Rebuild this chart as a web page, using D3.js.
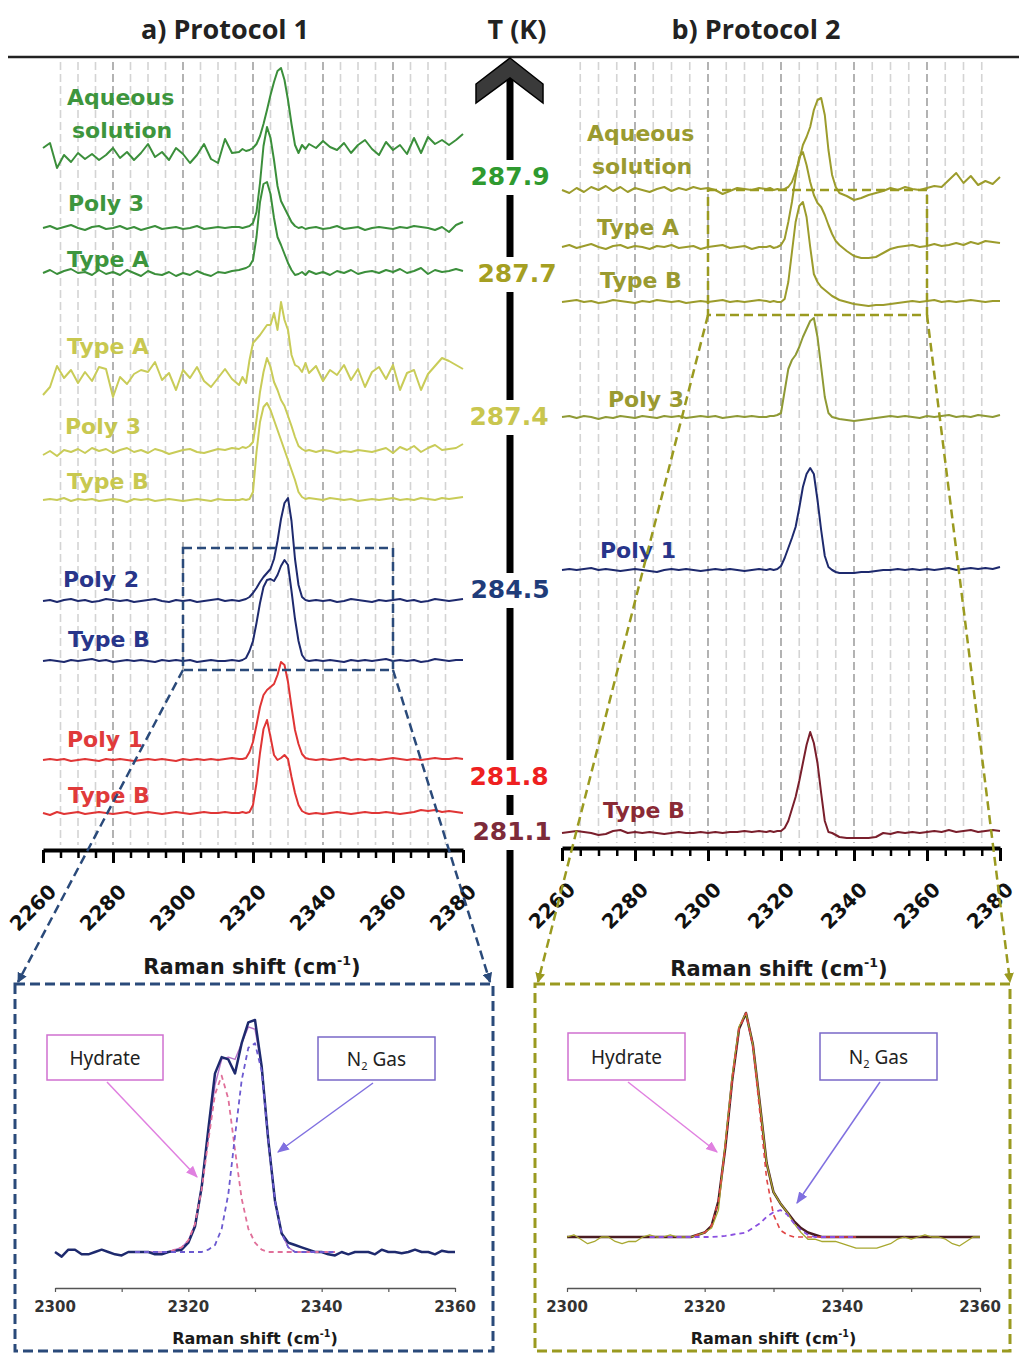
<!DOCTYPE html>
<html><head><meta charset="utf-8">
<script src="https://cdn.jsdelivr.net/npm/d3@7"></script>
<style>body{margin:0;background:#fff}svg{display:block}</style>
</head><body>
<svg id="c" width="1019" height="1356"></svg>
<script>
// ---------------- DATA ----------------
const ramanShift = [2260,2262,2264,2266,2268,2270,2272,2274,2276,2278,2280,2282,2284,2286,2288,2290,2292,2294,2296,2298,2300,2302,2304,2306,2308,2310,2312,2314,
 2316,2317,2318,2319,2320,2321,2322,2323,2324,2325,2326,2327,2328,2329,2330,2331,2332,2333,2334,2335,2336,
 2338,2340,2342,2344,2346,2348,2350,2352,2354,2356,2358,2360,2362,2364,2366,2368,2370,2372,2374,2376,2378,2380];
const majorTicks = [2260,2280,2300,2320,2340,2360,2380];
const minorTicks = [2260,2265,2270,2275,2280,2285,2290,2295,2300,2305,2310,2315,2320,2325,2330,2335,2340,2345,2350,2355,2360,2365,2370,2375,2380];
const gridShift = [2265,2270,2275,2280,2285,2290,2295,2300,2305,2310,2315,2320,2325,2330,2335,2340,2345,2350,2355,2360,2365,2370,2375];

// Protocol 1 (a) spectra, intensity above each trace's offset (a.u.)
const p1Labels = ["Aqueous solution","Poly 3","Type A","Type A","Poly 3","Type B","Poly 2","Type B","Poly 1","Type B"];
const p1Offsets = [70.0, 62.2, 57.8, 47.5, 39.8, 35.0, 24.9, 18.9, 9.0, 3.7];
const p1Aqueous = [0.2,0.7,-1.8,-0.5,-1.2,-0.3,-0.9,-0.4,-1.0,-0.5,0.2,-0.8,-0.2,-1.0,-0.3,0.6,-0.7,-0.2,-1.0,0.2,-0.4,-1.3,-0.5,0.6,-0.9,-1.3,1.1,-0.3,
 -0.2,0.1,-0.1,0.0,0.2,0.6,1.4,2.6,4.0,5.5,6.8,7.9,8.2,7.0,5.0,2.6,0.5,-0.3,0.5,0.1,0.6,
 0.2,0.9,0.3,0.0,0.7,-0.3,0.5,1.0,0.1,-0.5,0.8,0.0,0.5,-0.4,1.2,-0.3,1.3,0.6,1.0,0.5,1.0,1.6];
const p1Poly3G = [0.0,0.2,-0.1,0.1,0.3,0.0,-0.2,0.1,0.2,-0.1,0.0,0.2,-0.1,0.1,-0.2,0.0,0.2,-0.1,0.0,0.1,-0.1,0.0,0.2,-0.1,0.0,0.1,0.0,0.1,
 0.1,0.0,0.1,0.2,0.5,1.6,4.5,8.2,10.1,9.0,6.8,4.2,2.7,2.0,1.3,0.6,0.2,0.0,0.1,-0.1,0.0,
 0.1,-0.1,0.0,0.2,-0.1,0.0,0.1,-0.2,0.0,0.1,0.0,-0.1,0.1,0.0,0.2,0.1,0.0,-0.2,0.1,-0.4,0.3,0.6];
const p1TypeAG = [-0.1,0.2,-0.2,0.1,0.3,-0.1,0.0,-0.3,0.2,-0.2,0.0,-0.3,0.2,-0.1,-0.4,0.1,-0.2,-0.3,0.0,-0.4,-0.1,-0.3,0.1,-0.2,-0.4,0.0,-0.1,0.1,
 0.2,0.3,0.4,0.6,1.2,3.5,7.0,8.8,9.0,7.8,5.4,3.5,2.7,1.8,0.9,0.2,-0.3,-0.2,0.0,-0.3,0.1,
 -0.2,0.0,-0.3,0.1,-0.1,0.2,-0.2,0.0,0.1,-0.1,0.2,0.0,0.3,-0.1,0.1,0.4,-0.2,0.2,0.0,0.1,0.3,0.1];
const p1TypeAY = [-2.0,-1.2,0.9,-0.3,0.5,-0.8,0.3,-0.6,0.8,0.6,-2.2,-0.2,-0.9,0.1,0.5,0.3,1.3,-0.5,0.2,-1.5,0.5,-0.3,0.8,-0.6,-1.2,-0.3,0.6,-0.4,
 -1.0,-0.2,-0.8,1.5,3.2,3.6,4.0,4.5,5.0,5.0,6.2,4.5,7.3,5.5,4.5,2.0,1.0,0.8,0.3,1.2,0.2,
 0.9,-0.6,0.5,0.0,1.0,-0.5,0.6,-1.2,0.3,0.8,-0.4,1.0,-1.5,0.2,0.5,-1.5,0.1,0.9,1.7,1.4,1.0,0.6];
const p1Poly3Y = [-0.3,0.1,-0.4,0.2,0.0,0.3,-0.1,0.4,0.1,0.3,-0.1,0.2,0.4,0.0,0.2,-0.1,0.3,0.1,-0.2,0.0,0.2,0.3,0.0,-0.1,0.1,0.3,0.2,0.4,
 0.3,0.5,0.4,0.6,1.0,3.2,6.0,8.0,9.4,8.5,7.0,6.2,5.2,4.6,3.6,2.6,1.5,0.6,0.3,0.1,0.2,
 0.0,0.2,0.1,-0.1,0.1,0.0,0.2,0.1,0.0,0.2,0.4,-0.1,0.5,0.2,0.6,0.0,0.4,0.7,0.2,0.3,0.4,0.8];
const p1TypeBY = [0.0,0.1,0.0,0.2,-0.1,0.1,0.0,0.1,-0.1,0.0,0.1,0.0,-0.2,0.1,0.0,0.1,-0.1,0.0,0.1,0.0,-0.1,0.0,0.1,0.0,-0.1,0.1,0.0,0.0,
 0.0,0.1,0.0,0.1,0.8,4.8,7.8,9.3,9.7,9.0,8.0,7.0,6.0,5.0,4.0,3.0,2.0,0.8,0.3,0.1,0.2,
 0.1,0.0,0.2,0.1,0.0,0.1,-0.1,0.0,0.1,0.0,0.1,0.2,0.0,0.1,0.0,0.2,0.1,0.0,0.2,0.1,0.2,0.3];
const p1Poly2N = [0.0,0.1,-0.1,0.1,0.2,0.0,0.1,-0.1,0.0,0.2,0.1,0.0,0.1,-0.1,0.0,0.1,0.2,0.0,-0.1,0.1,0.0,0.1,-0.1,0.0,0.1,0.2,0.0,0.1,
 0.0,0.1,0.2,0.4,0.8,1.3,1.9,2.4,2.8,3.2,4.2,6.0,8.2,9.8,10.3,8.0,4.2,1.6,0.4,0.1,0.0,
 0.1,0.0,0.1,-0.1,0.0,0.2,0.1,0.0,-0.1,0.1,0.0,0.1,0.2,0.0,0.1,-0.1,0.0,0.2,0.1,0.0,0.1,0.2];
const p1TypeBN = [0.0,0.1,0.0,-0.1,0.1,0.0,0.1,0.2,0.0,0.1,-0.1,0.0,0.1,0.0,0.1,0.0,-0.1,0.1,0.0,0.1,0.0,0.1,-0.1,0.0,0.1,0.0,0.0,0.1,
 0.0,0.1,0.3,1.0,2.0,3.8,5.8,7.4,8.1,8.2,8.0,8.6,9.5,10.1,9.6,7.0,4.2,2.0,0.6,0.1,0.0,
 0.1,0.0,0.1,0.0,-0.1,0.1,0.0,0.1,0.0,0.1,0.2,0.0,0.1,0.0,0.1,-0.1,0.0,0.2,0.1,0.0,0.1,0.1];
const p1Poly1R = [0.0,0.1,0.0,0.1,-0.1,0.0,0.1,0.0,-0.1,0.1,0.0,0.1,0.0,-0.1,0.0,0.1,0.0,0.1,0.0,-0.1,0.1,0.0,0.1,0.0,0.1,0.0,0.1,0.2,
 0.1,0.1,0.2,0.8,1.8,3.5,5.3,6.5,7.0,7.3,7.6,8.5,9.8,9.5,7.8,5.3,3.0,1.6,0.6,0.2,0.1,
 0.0,0.1,0.0,0.1,0.2,0.0,0.1,0.0,0.1,0.0,0.1,0.2,0.1,0.0,0.1,0.0,0.1,0.2,0.1,0.1,0.2,0.1];
const p1TypeBR = [0.0,-0.2,0.1,-0.1,0.0,0.1,-0.1,0.0,0.1,0.0,-0.1,0.0,0.1,-0.1,0.0,0.1,0.0,-0.1,0.0,0.1,0.0,-0.1,0.0,0.1,0.0,0.0,0.1,0.0,
 0.0,0.1,0.0,0.1,0.8,3.0,6.0,8.4,9.3,7.6,5.8,5.3,5.5,5.8,5.4,3.6,2.0,0.8,0.2,0.0,-0.1,
 0.0,-0.1,0.0,0.1,0.0,-0.1,0.0,0.1,0.0,0.0,0.1,0.0,-0.1,0.0,0.1,0.3,0.2,0.3,0.1,0.2,0.1,0.0];

// Protocol 2 (b) spectra
const p2Labels = ["Aqueous solution","Type A","Type B","Poly 3","Poly 1","Type B"];
const p2Offsets = [65.8, 60.1, 54.6, 43.1, 27.8, 1.5];
const p2Aqueous = [0.0,-0.3,0.2,-0.2,0.3,0.0,0.4,-0.1,0.3,-0.2,0.2,0.0,-0.2,0.1,0.3,-0.1,0.2,0.0,0.3,0.1,0.2,0.0,-0.4,-0.1,0.2,0.1,0.0,0.2,
 0.1,0.2,0.0,0.1,0.0,0.1,0.3,0.8,1.8,3.0,4.5,5.3,6.3,8.0,9.0,9.2,7.5,4.0,1.5,0.3,-0.3,
 -0.6,-1.0,-0.8,-0.5,-0.3,-0.1,0.2,0.0,0.3,0.1,0.0,0.2,0.4,0.3,1.0,1.7,0.7,1.4,0.5,0.9,0.6,1.3];
const p2TypeA = [0.0,0.2,-0.1,0.1,0.3,0.0,-0.2,0.1,0.2,-0.1,0.1,0.0,-0.2,0.1,0.0,0.2,-0.1,0.0,0.1,-0.2,0.0,0.1,0.2,-0.1,0.0,0.1,-0.2,0.0,
 0.0,0.1,-0.1,0.0,0.2,0.8,2.5,4.5,7.0,9.0,9.5,8.2,6.5,5.2,4.4,4.0,3.2,2.2,1.3,0.6,0.2,
 -0.4,-0.9,-1.1,-1.1,-1.0,-0.6,-0.2,0.0,0.1,0.2,0.0,0.1,0.3,0.1,0.2,0.4,0.2,0.5,0.3,0.6,0.5,0.4];
const p2TypeB = [0.0,0.1,0.2,0.0,0.1,-0.1,0.0,0.2,0.1,0.0,-0.1,0.1,0.0,0.2,0.1,0.0,0.1,-0.1,0.0,0.1,0.0,0.1,0.2,0.0,0.1,0.0,0.1,0.2,
 0.1,0.0,0.1,0.0,0.0,0.3,2.0,5.0,8.0,9.6,10.0,8.5,5.5,2.8,2.0,1.5,1.2,0.9,0.6,0.4,0.2,
 0.0,-0.2,-0.3,-0.4,-0.3,-0.3,-0.2,-0.1,0.0,0.1,0.0,0.1,0.2,0.0,0.1,0.0,0.1,0.2,0.1,0.0,0.1,0.1];
const p2Poly3 = [0.0,0.1,-0.1,0.1,0.0,-0.2,0.0,-0.1,0.1,0.0,-0.1,0.1,0.0,-0.1,0.1,0.0,0.1,-0.1,0.0,0.1,0.0,0.1,-0.1,0.0,0.1,0.0,0.1,0.0,
 0.0,0.1,0.1,0.2,0.4,2.6,4.8,5.7,6.2,7.0,8.0,8.8,9.6,9.9,8.0,5.0,2.0,0.4,0.0,-0.1,-0.2,
 -0.3,-0.4,-0.3,-0.2,-0.1,0.0,0.1,0.0,0.1,0.0,-0.1,0.1,0.0,0.1,0.2,0.0,0.1,0.0,0.2,0.1,0.0,0.2];
const p2Poly1 = [0.0,0.1,0.0,0.1,0.2,0.0,0.1,0.0,-0.1,0.0,0.1,0.0,-0.1,-0.2,0.0,0.1,0.0,0.1,0.0,-0.1,0.0,0.1,0.0,0.1,0.0,-0.1,0.0,0.1,
 0.0,0.1,0.0,0.1,0.4,1.2,2.2,3.2,4.3,6.2,8.3,9.6,10.2,9.6,7.0,4.0,1.4,0.3,0.0,-0.2,-0.3,
 -0.3,-0.3,-0.2,-0.2,-0.1,0.0,0.0,0.1,0.0,0.1,0.0,0.1,0.0,0.1,0.2,0.0,0.1,0.2,0.1,0.2,0.1,0.3];
const p2TypeBD = [0.0,0.1,0.2,0.1,0.0,-0.2,-0.1,0.2,0.3,0.0,0.1,0.0,0.1,0.0,-0.1,0.0,0.1,0.0,0.0,0.1,0.0,0.1,0.0,0.1,0.1,0.2,0.1,0.2,
 0.1,0.2,0.1,0.2,0.2,0.5,1.2,2.4,3.6,5.2,7.0,8.8,10.1,9.0,7.0,4.0,1.2,0.1,0.0,-0.2,-0.4,
 -0.5,-0.5,-0.5,-0.5,-0.4,0.0,-0.1,0.1,0.0,0.1,0.0,0.1,0.2,0.1,0.3,0.1,0.2,0.3,0.1,0.2,0.3,0.2];

const tempLabels = ["287.9","287.7","287.4","284.5","281.8","281.1"];

// zoomed regions (x in cm-1, y in trace intensity units)
const p1ZoomX = [2300, 2360], p1ZoomY = [18.0, 30.2];
const p2ZoomX = [2300, 2360], p2ZoomY = [53.3, 65.8];

// insets
const insetShift = [2300,2301,2302,2303,2304,2305,2306,2307,2308,2309,2310,2311,2312,2313,2314,2315,2316,2317,2318,2319,2320,2321,2322,2323,2324,2325,2326,2327,2328,2329,2330,2331,2332,2333,2334,2335,2336,2337,2338,2339,2340,2341,2342,2343,2344,2345,2346,2347,2348,2349,2350,2351,2352,2353,2354,2355,2356,2357,2358,2359,2360];
const fitShift = [2312,2313,2314,2315,2316,2317,2318,2319,2320,2321,2322,2323,2324,2325,2326,2327,2328,2329,2330,2331,2332,2333,2334,2335,2336,2337,2338,2339,2340,2341,2342];
const insetTicks = [2300,2320,2340,2360];
const insetMinorTicks = [2300,2310,2320,2330,2340,2350,2360];

const inA_measured = [0.0,-0.02,0.01,0.01,-0.01,-0.01,0.0,0.01,0.0,-0.01,
 -0.015,0.0,0.0,0.0,0.0,-0.01,-0.01,0.0,0.005,0.01,
 0.04,0.11,0.28,0.53,0.77,0.84,0.83,0.77,0.9,0.99,
 1.0,0.8,0.48,0.22,0.08,0.04,0.03,0.02,0.01,0.0,
 0.0,-0.01,-0.015,0.0,-0.01,0.0,0.0,0.0,-0.01,0.01,
 0.0,0.0,-0.005,0.0,0.01,0.0,0.0,-0.01,0.005,0.0,0.0];
const inA_fit = [0,0,0,0,0,0,0.01,0.02,0.05,0.12,0.28,0.5,0.72,0.83,0.84,0.83,0.9,0.97,0.96,0.8,0.48,0.22,0.08,0.02,0,0,0,0,0,0,0];
const inA_hydrate = [0,0,0,0,0,0,0.01,0.02,0.05,0.12,0.27,0.48,0.68,0.76,0.66,0.44,0.23,0.1,0.04,0.01,0,0,0,0,0,0,0,0,0,0,0];
const inA_gas = [0,0,0,0,0,0,0,0,0,0,0,0.01,0.03,0.1,0.25,0.5,0.74,0.88,0.9,0.78,0.48,0.22,0.08,0.02,0,0,0,0,0,0,0];

const inB_measured = [0.0,0.01,-0.01,-0.03,-0.02,0.0,0.0,-0.02,-0.03,-0.02,
 -0.02,0.0,0.01,0.0,0.0,0.01,0.0,0.0,0.0,0.01,
 0.02,0.04,0.12,0.42,0.72,0.94,1.0,0.86,0.6,0.33,
 0.2,0.15,0.11,0.06,0.02,-0.01,-0.01,-0.02,-0.02,-0.02,
 -0.03,-0.04,-0.05,-0.05,-0.05,-0.05,-0.04,-0.03,-0.01,0.0,
 -0.01,0.0,0.01,0.0,0.0,-0.01,-0.03,-0.04,-0.02,0.0,0.0];
const inB_fit = [0,0,0,0,0,0,0,0,0,0,0,0,0,0,0,0,0,0,0,
 0.01,0.02,0.05,0.16,0.4,0.7,0.93,1.0,0.86,0.6,0.33,0.2,0.15,0.11,0.07,0.04,0.02,0.01,
 0,0,0,0,0,0,0,0,0,0,0,0,0,0,0,0,0,0,0,0,0,0,0,0];
const inB_hydrate = [0,0,0,0,0,0,0,0.01,0.02,0.05,0.16,0.4,0.7,0.93,1.0,0.85,0.56,0.26,0.1,0.03,0.01,0,0,0,0,0,0,0,0,0,0];
const inB_gas = [0,0,0,0,0,0,0,0,0,0,0.002,0.005,0.01,0.015,0.02,0.04,0.06,0.09,0.11,0.12,0.1,0.06,0.03,0.01,0,0,0,0,0,0,0];

// ---------------- DRAWING ----------------
const svg = d3.select("#c");
svg.append("rect").attr("width",1019).attr("height",1356).attr("fill","#fff");

const C = {green:"#3b8f3b", yellow:"#c9cc58", navy:"#1e2a6e", red:"#e03535", olive:"#9c9c2c", olive2:"#8f9a35", dred:"#7a1f2c"};
const LC = {green:"#3d953d", yellow:"#c8c850", navy:"#28358a", red:"#e03a3a", olive:"#9a9a30", dred:"#8a2a35"};

const xL = d3.scaleLinear().domain([2260,2380]).range([43,463]);
const yL = d3.scaleLinear().domain([0,79]).range([850,60]);
const xR = d3.scaleLinear().domain([2260,2380]).range([562,1000]);
const yR = d3.scaleLinear().domain([0,79]).range([848,58]);

const defs = svg.append("defs");
function marker(id, color) {
  defs.append("marker").attr("id",id).attr("viewBox","0 0 10 10").attr("refX",9).attr("refY",5)
    .attr("markerWidth",4).attr("markerHeight",4).attr("orient","auto")
    .append("path").attr("d","M0,0L10,5L0,10z").attr("fill",color);
}
marker("mNavy","#2a4a7a"); marker("mOlive","#9a9a20");
function marker2(id, color) {
  defs.append("marker").attr("id",id).attr("viewBox","0 0 10 10").attr("refX",9).attr("refY",5)
    .attr("markerWidth",8).attr("markerHeight",8).attr("orient","auto")
    .append("path").attr("d","M0,1L10,5L0,9z").attr("fill",color);
}
marker2("mHyd","#e080e0"); marker2("mGas","#8070e0");

// titles
const titles = [["a) Protocol 1",225],["T (K)",517],["b) Protocol 2",756]];
svg.append("g").selectAll("text").data(titles).join("text")
  .attr("x",d=>d[1]).attr("y",39).attr("text-anchor","middle")
  .attr("font-family","Open Sans").attr("font-weight","bold").attr("font-size",27).attr("fill","#222").text(d=>d[0]);
svg.append("line").attr("x1",8).attr("x2",1019).attr("y1",57).attr("y2",57).attr("stroke","#222").attr("stroke-width",2.5);

// grids
function grid(x, y0, y1) {
  svg.append("g").selectAll("line").data(gridShift).join("line")
    .attr("x1",d=>x(d)).attr("x2",d=>x(d)).attr("y1",y0).attr("y2",y1)
    .attr("stroke",d=>majorTicks.includes(d)?"#a0a0a0":"#d4d4d4")
    .attr("stroke-width",1.6).attr("stroke-dasharray","8,4");
}
grid(xL, 62, 845); grid(xR, 62, 843);

// traces
function traces(x, y, series) {
  series.forEach(s => {
    const line = d3.line().x((d,i)=>x(ramanShift[i])).y(d=>y(s.offset + d));
    svg.append("path").attr("d", line(s.values)).attr("fill","none")
      .attr("stroke", s.color).attr("stroke-width", 2).attr("stroke-linejoin","round");
  });
}
const p1Values = [p1Aqueous,p1Poly3G,p1TypeAG,p1TypeAY,p1Poly3Y,p1TypeBY,p1Poly2N,p1TypeBN,p1Poly1R,p1TypeBR];
const p1Colors = [C.green,C.green,C.green,C.yellow,C.yellow,C.yellow,C.navy,C.navy,C.red,C.red];
traces(xL, yL, p1Values.map((v,i)=>({values:v, offset:p1Offsets[i], color:p1Colors[i]})));
const p2Values = [p2Aqueous,p2TypeA,p2TypeB,p2Poly3,p2Poly1,p2TypeBD];
const p2Colors = [C.olive,C.olive,C.olive,C.olive2,C.navy,C.dred];
traces(xR, yR, p2Values.map((v,i)=>({values:v, offset:p2Offsets[i], color:p2Colors[i]})));

// trace labels
const p1LabelLayout = [[67,105],[68,211],[67,267],[67,354],[65,434],[67,489],[63,587],[68,647],[67,747],[68,803]];
const p1LabelColors = [LC.green,LC.green,LC.green,LC.yellow,LC.yellow,LC.yellow,LC.navy,LC.navy,LC.red,LC.red];
const p2LabelLayout = [[587,141],[597,235],[600,288],[608,407],[600,558],[603,818]];
const p2LabelColors = [LC.olive,LC.olive,LC.olive,LC.olive,LC.navy,LC.dred];
function labels(names, layout, colors) {
  names.forEach((n,i) => {
    const t = svg.append("text").attr("x",layout[i][0]).attr("y",layout[i][1])
      .attr("font-family","DejaVu Sans").attr("font-weight","bold").attr("font-size",22).attr("fill",colors[i]);
    if (n === "Aqueous solution") {
      t.append("tspan").attr("x",layout[i][0]).text("Aqueous");
      t.append("tspan").attr("x",layout[i][0]+5).attr("dy",33).text("solution");
    } else t.text(n);
  });
}
labels(p1Labels, p1LabelLayout, p1LabelColors);
labels(p2Labels, p2LabelLayout, p2LabelColors);

// axes
function bottomAxis(x, y) {
  const gm = svg.append("g").attr("transform",`translate(0,${y})`)
    .call(d3.axisBottom(x).tickValues(minorTicks).tickSize(8).tickSizeOuter(0).tickFormat(""));
  gm.select(".domain").attr("stroke","#000").attr("stroke-width",4);
  gm.selectAll(".tick line").attr("stroke","#000").attr("stroke-width",2.5);
  const gM = svg.append("g").attr("transform",`translate(0,${y})`)
    .call(d3.axisBottom(x).tickValues(majorTicks).tickSize(13).tickSizeOuter(0).tickFormat(d3.format("d")));
  gM.select(".domain").remove();
  gM.selectAll(".tick line").attr("stroke","#000").attr("stroke-width",3);
  gM.selectAll(".tick text").attr("fill","#111").attr("font-family","DejaVu Sans").attr("font-weight","bold")
    .attr("font-size",20).attr("text-anchor","end").attr("x",0).attr("y",0).attr("dy",0)
    .attr("transform","translate(14,43) rotate(-45)");
}
bottomAxis(xL, 850); bottomAxis(xR, 848);

function axisTitle(cx, cy, size) {
  const t = svg.append("text").attr("x",cx).attr("y",cy).attr("text-anchor","middle")
    .attr("font-family","DejaVu Sans").attr("font-weight","bold").attr("font-size",size).attr("fill","#1a1a1a");
  t.append("tspan").text("Raman shift (cm");
  t.append("tspan").attr("font-size",size*0.6).attr("dy",-size*0.42).text("-1");
  t.append("tspan").attr("dy",size*0.42).text(")");
}
axisTitle(252, 974, 21); axisTitle(779, 976, 21);

// temperature arrow
svg.append("line").attr("x1",510).attr("x2",510).attr("y1",64).attr("y2",988).attr("stroke","#000").attr("stroke-width",7);
svg.append("polygon").attr("points","510,58 543,84 543,103 510,78 476,103 476,84")
  .attr("fill","#3a3a3a").attr("stroke","#000").attr("stroke-width",1.5);
const tempLayout = [[510,185],[517,282],[509,425],[510,598],[509,785],[512,840]];
const tempColors = ["#2f9a2f","#a59f22","#c9c64f","#1f3c7a","#ee2020","#7d2b3a"];
tempLabels.forEach((t,i) => {
  svg.append("rect").attr("x",504).attr("y",tempLayout[i][1]-25).attr("width",12).attr("height",35).attr("fill","#fff");
  svg.append("text").attr("x",tempLayout[i][0]).attr("y",tempLayout[i][1]).attr("text-anchor","middle")
    .attr("font-family","DejaVu Sans").attr("font-weight","bold").attr("font-size",25).attr("fill",tempColors[i]).text(t);
});

// zoom boxes & connectors
function zoomBox(x, y, zx, zy, color, mk, inset) {
  const x0 = x(zx[0]), x1 = x(zx[1]), yt = y(zy[1]), yb = y(zy[0]);
  svg.append("rect").attr("x",x0).attr("y",yt).attr("width",x1-x0).attr("height",yb-yt)
    .attr("fill","none").attr("stroke",color).attr("stroke-width",2.5).attr("stroke-dasharray","9,5");
  [[x0,inset[0]],[x1,inset[1]]].forEach(p => {
    svg.append("line").attr("x1",p[0]).attr("y1",yb).attr("x2",p[1]).attr("y2",inset[2])
      .attr("stroke",color).attr("stroke-width",2.5).attr("stroke-dasharray","9,5").attr("marker-end",`url(#${mk})`);
  });
}
zoomBox(xL, yL, p1ZoomX, p1ZoomY, "#2a4a7a", "mNavy", [18, 490, 982]);
zoomBox(xR, yR, p2ZoomX, p2ZoomY, "#9a9a20", "mOlive", [538, 1010, 982]);

// insets
function inset(o) {
  svg.append("rect").attr("x",o.box[0]).attr("y",o.box[1]).attr("width",o.box[2]-o.box[0]).attr("height",o.box[3]-o.box[1])
    .attr("fill","none").attr("stroke",o.boxColor).attr("stroke-width",3).attr("stroke-dasharray","10,5");
  const x = d3.scaleLinear().domain([2300,2360]).range(o.xr);
  const y = d3.scaleLinear().domain([0,1]).range(o.yr);
  const g = svg.append("g").attr("transform",`translate(0,${o.axisY})`)
    .call(d3.axisBottom(x).tickValues(insetMinorTicks).tickSize(4).tickSizeOuter(0).tickFormat(""));
  g.select(".domain").attr("stroke","#555").attr("stroke-width",1.5);
  g.selectAll(".tick line").attr("stroke","#555").attr("stroke-width",1.2);
  svg.append("g").selectAll("text").data(insetTicks).join("text")
    .attr("x",d=>x(d)).attr("y",o.axisY+24).attr("text-anchor","middle")
    .attr("font-family","DejaVu Sans").attr("font-weight","bold").attr("font-size",15).attr("fill","#333").text(d=>d);
  axisTitle((o.xr[0]+o.xr[1])/2, o.axisY+56, 16);
  o.lines.forEach(l => {
    const line = d3.line().x((d,i)=>x(l.xs[i])).y(d=>y(d));
    svg.append("path").attr("d",line(l.v)).attr("fill","none").attr("stroke",l.c).attr("stroke-width",l.w)
      .attr("stroke-dasharray",l.dash||null).attr("stroke-linejoin","round");
  });
  const cb = (r, col, label, sub) => {
    svg.append("rect").attr("x",r[0]).attr("y",r[1]).attr("width",r[2]-r[0]).attr("height",r[3]-r[1])
      .attr("fill","#fff").attr("stroke",col).attr("stroke-width",1.5);
    const t = svg.append("text").attr("x",(r[0]+r[2])/2).attr("y",(r[1]+r[3])/2+7).attr("text-anchor","middle")
      .attr("font-family","Noto Sans").attr("font-size",19).attr("fill","#222");
    if (sub) { t.append("tspan").text("N"); t.append("tspan").attr("font-size",11).attr("dy",4).text("2"); t.append("tspan").attr("dy",-4).text(" Gas"); }
    else t.text(label);
  };
  cb(o.hydBox, "#d070d0", "Hydrate", false);
  cb(o.gasBox, "#7a68c8", "", true);
  svg.append("line").attr("x1",o.hydArrow[0]).attr("y1",o.hydArrow[1]).attr("x2",o.hydArrow[2]).attr("y2",o.hydArrow[3])
    .attr("stroke","#e080e0").attr("stroke-width",1.5).attr("marker-end","url(#mHyd)");
  svg.append("line").attr("x1",o.gasArrow[0]).attr("y1",o.gasArrow[1]).attr("x2",o.gasArrow[2]).attr("y2",o.gasArrow[3])
    .attr("stroke","#8070e0").attr("stroke-width",1.5).attr("marker-end","url(#mGas)");
}
inset({
  box:[15,984,493,1351], boxColor:"#2a4a7a", xr:[55,455], yr:[1252,1020], axisY:1288,
  lines:[
    {xs:fitShift, v:inA_fit, c:"#b673c8", w:1.4},
    {xs:insetShift, v:inA_measured, c:"#1e2a6e", w:2.5},
    {xs:fitShift, v:inA_hydrate, c:"#e0709a", w:1.8, dash:"5,4"},
    {xs:fitShift, v:inA_gas, c:"#6c5ad0", w:1.8, dash:"5,4"}
  ],
  hydBox:[47,1035,163,1080], gasBox:[318,1037,435,1080],
  hydArrow:[107,1082,197,1177], gasArrow:[373,1083,278,1152]
});
inset({
  box:[535,984,1010,1351], boxColor:"#9a9a20", xr:[567,980], yr:[1237,1013], axisY:1288,
  lines:[
    {xs:insetShift, v:inB_fit, c:"#4a1c22", w:2.5},
    {xs:insetShift, v:inB_measured, c:"#a8a830", w:1.3},
    {xs:fitShift, v:inB_hydrate, c:"#e04545", w:1.6, dash:"5,4"},
    {xs:fitShift, v:inB_gas, c:"#8a50e0", w:1.8, dash:"5,4"}
  ],
  hydBox:[568,1033,685,1080], gasBox:[820,1033,937,1080],
  hydArrow:[628,1082,717,1152], gasArrow:[880,1082,797,1203]
});
</script>
</body></html>
